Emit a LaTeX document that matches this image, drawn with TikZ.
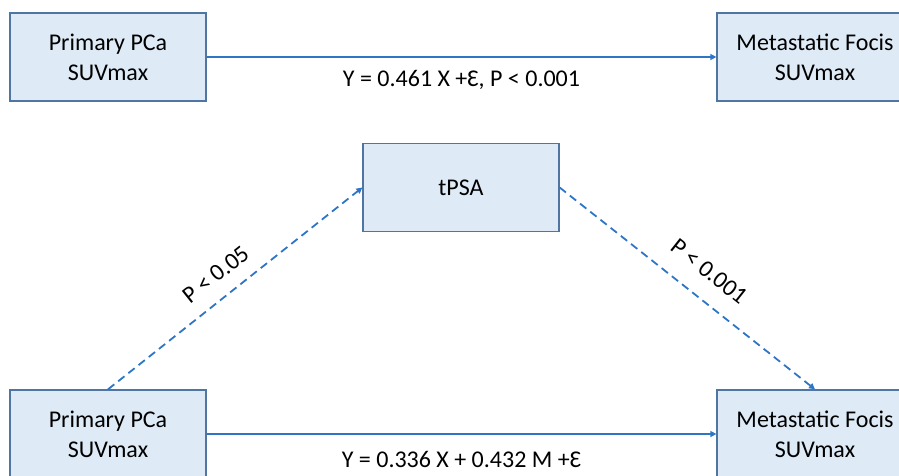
\documentclass[tikz,border=0pt]{standalone}
\usepackage{fontspec}
\setmainfont{Carlito}
\usetikzlibrary{arrows.meta}
\definecolor{boxfill}{HTML}{DEEBF7}
\definecolor{boxline}{HTML}{4F76A3}
\definecolor{arrowc}{HTML}{2E75C6}
\begin{document}
\begin{tikzpicture}[x=1pt,y=-1pt,
  box/.style={draw=boxline, fill=boxfill, line width=1.3pt,
    minimum width=196pt, minimum height=88pt, align=center, inner sep=0pt,
    font=\fontsize{24}{30}\selectfont},
  solidarrow/.style={draw=arrowc, line width=1.8pt, -{Triangle[length=6pt,width=6pt]}},
  dasharrow/.style={solidarrow, dash pattern=on 8pt off 5pt},
  lbl/.style={inner sep=0pt, font=\fontsize{24}{30}\selectfont, text=black}]
\useasboundingbox (0,0) rectangle (899,476);
\node[box] (tl) at (108,57) {Primary PCa\\SUVmax};
\node[box] (tr) at (815,57) {Metastatic Focis\\SUVmax};
\node[box] (tpsa) at (461,187.5) {tPSA};
\node[box] (bl) at (108,434) {Primary PCa\\SUVmax};
\node[box] (br) at (815,434) {Metastatic Focis\\SUVmax};
\draw[solidarrow] (tl) -- (tr)
  node[lbl, pos=0.5, anchor=base, yshift=-30pt] {Y = 0.461 X +Ɛ, P < 0.001};
\draw[solidarrow] (bl) -- (br)
  node[lbl, pos=0.5, anchor=base, yshift=-33pt] {Y = 0.336 X + 0.432 M +Ɛ};
\draw[dasharrow] (bl.north) -- (tpsa.west)
  node[lbl, pos=0.48, sloped, above=14pt] {P < 0.05};
\draw[dasharrow] (tpsa.east) -- (br.north)
  node[lbl, pos=0.52, sloped, above=18pt] {P < 0.001};
\end{tikzpicture}
\end{document}
